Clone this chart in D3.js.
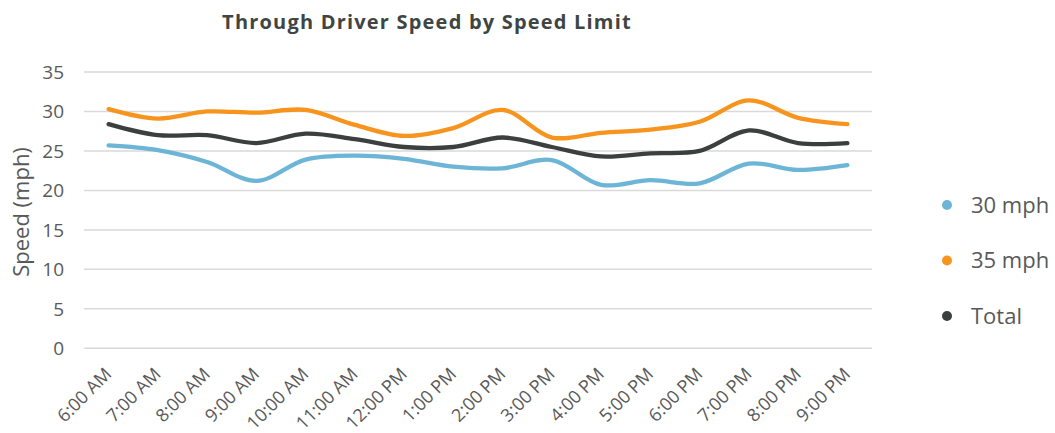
<!DOCTYPE html>
<html>
<head>
<meta charset="utf-8">
<script src="https://cdn.jsdelivr.net/npm/d3@7"></script>
<style>
  body { margin: 0; background: #fff; }
  svg text { font-family: "Open Sans", Roboto, sans-serif; }
</style>
</head>
<body>
<svg id="chart" width="1055" height="433"></svg>
<script>
// categories and values
var hours = ["6:00 AM","7:00 AM","8:00 AM","9:00 AM","10:00 AM","11:00 AM","12:00 PM","1:00 PM",
             "2:00 PM","3:00 PM","4:00 PM","5:00 PM","6:00 PM","7:00 PM","8:00 PM","9:00 PM"];
var mph30 = [25.7,25.1,23.6,21.2,23.9,24.4,24.0,23.0,22.8,23.85,20.7,21.3,20.9,23.4,22.6,23.2];
var mph35 = [30.3,29.1,30.0,29.85,30.2,28.3,26.9,27.9,30.2,26.7,27.3,27.7,28.7,31.4,29.2,28.4];
var total = [28.4,27.0,27.0,26.0,27.2,26.5,25.5,25.5,26.7,25.5,24.3,24.7,25.0,27.6,26.0,26.0];
var yTicks = [0,5,10,15,20,25,30,35];

var series = [
  {name: "30 mph", values: mph30, color: "#6cb5d6"},
  {name: "35 mph", values: mph35, color: "#f7941d"},
  {name: "Total",  values: total, color: "#3b3f3e"}
];

var svg = d3.select("#chart");
var plotLeft = 84, plotRight = 872, plotTop = 72, plotBottom = 348.3;

var x = d3.scaleBand().domain(hours).range([plotLeft, plotRight]);
var y = d3.scaleLinear().domain([0, 35]).range([plotBottom, plotTop]);

// gridlines
svg.append("g").selectAll("line")
  .data(yTicks)
  .enter().append("line")
    .attr("x1", plotLeft).attr("x2", plotRight)
    .attr("y1", function(d) { return y(d); })
    .attr("y2", function(d) { return y(d); })
    .attr("stroke", "#d9d9d9")
    .attr("stroke-width", 1.5);

// y axis labels
svg.append("g").selectAll("text")
  .data(yTicks)
  .enter().append("text")
    .attr("x", 64)
    .attr("y", function(d) { return y(d); })
    .attr("dy", "0.36em")
    .attr("text-anchor", "end")
    .attr("font-size", 19)
    .attr("fill", "#595959")
    .text(function(d) { return d; });

svg.append("text")
  .attr("transform", "translate(29,212) rotate(-90)")
  .attr("text-anchor", "middle")
  .attr("font-size", 22)
  .attr("fill", "#595959")
  .text("Speed (mph)");

// x axis labels
var xAxis = d3.axisBottom(x).tickSize(0).tickPadding(0);
var gx = svg.append("g")
  .attr("transform", "translate(0," + plotBottom + ")")
  .call(xAxis);
gx.select(".domain").remove();
gx.selectAll("text")
  .attr("font-size", 18)
  .attr("fill", "#595959")
  .attr("text-anchor", "end")
  .attr("dy", 0)
  .attr("transform", "translate(4,27) rotate(-45)");

// lines
var line = d3.line()
  .x(function(d, i) { return x(hours[i]) + x.bandwidth() / 2; })
  .y(function(d) { return y(d); })
  .curve(d3.curveCatmullRom);

svg.append("g").selectAll("path")
  .data(series)
  .enter().append("path")
    .attr("d", function(s) { return line(s.values); })
    .attr("fill", "none")
    .attr("stroke", function(s) { return s.color; })
    .attr("stroke-width", 4.3)
    .attr("stroke-linecap", "round")
    .attr("stroke-linejoin", "round");

// title
svg.append("text")
  .attr("x", 427)
  .attr("y", 29)
  .attr("text-anchor", "middle")
  .attr("font-size", 20)
  .attr("font-weight", "bold")
  .attr("letter-spacing", 1.2)
  .attr("fill", "#3f4543")
  .text("Through Driver Speed by Speed Limit");

// legend
var legend = svg.append("g").selectAll("g")
  .data(series)
  .enter().append("g")
    .attr("transform", function(d, i) { return "translate(947," + (205 + i * 55.5) + ")"; });
legend.append("circle").attr("r", 5).attr("fill", function(d) { return d.color; });
legend.append("text")
  .attr("x", 24)
  .attr("dy", "0.36em")
  .attr("font-size", 22)
  .attr("fill", "#595959")
  .text(function(d) { return d.name; });
</script>
</body>
</html>
